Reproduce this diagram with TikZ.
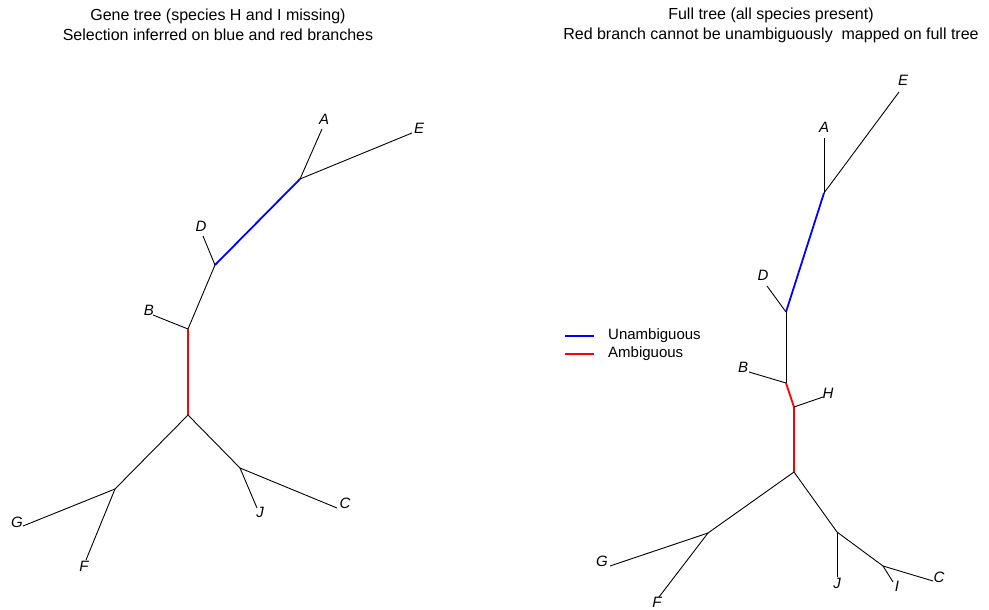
\documentclass[tikz,border=0pt]{standalone}
\usepackage{fontspec}
\setmainfont{Liberation Sans}
\begin{document}
\begin{tikzpicture}[x=1pt,y=-1pt,
  br/.style={black,line width=0.9pt},
  blu/.style={blue,line width=1.8pt},
  rd/.style={red,line width=1.8pt},
  lab/.style={inner sep=0pt,font=\fontsize{15}{15}\selectfont\itshape},
  ttl/.style={align=center,inner sep=0pt,font=\fontsize{16}{20}\selectfont},
  leg/.style={anchor=west,inner sep=0pt,font=\fontsize{15}{15}\selectfont}]
\useasboundingbox (0,0) rectangle (989,610);
% titles
\node[ttl] (t1) at (218,25) {Gene tree (species H and I missing)\\Selection inferred on blue and red branches};
\node[ttl] (t2) at (771,25) {Full tree (all species present)\\Red branch cannot be unambiguously\ \ mapped on full tree};
% ---------- left tree ----------
\coordinate (lAE) at (300,179);
\coordinate (lD) at (215,265);
\coordinate (lB) at (188,329);
\coordinate (lR) at (188,415);
\coordinate (lGF) at (115,489);
\coordinate (lJC) at (240,468);
\coordinate (lAt) at (322,129);
\coordinate (lEt) at (412,133);
\coordinate (lDt) at (203,236);
\coordinate (lBt) at (153,315);
\coordinate (lGt) at (23,526);
\coordinate (lFt) at (86,560);
\coordinate (lJt) at (257,508);
\coordinate (lCt) at (337,508);
\node[lab] (lA) at (324,119) {A};
\node[lab] (lE) at (419,128) {E};
\node[lab] (lDl) at (201,226) {D};
\node[lab] (lBl) at (149,310) {B};
\node[lab] (lG) at (17,522) {G};
\node[lab] (lF) at (84,566) {F};
\node[lab] (lJ) at (260,512) {J};
\node[lab] (lC) at (345,503) {C};
\draw[br] (lAE) -- (lAt);
\draw[br] (lAE) -- (lEt);
\draw[blu] (lAE) -- (lD);
\draw[br] (lD) -- (lDt);
\draw[br] (lD) -- (lB);
\draw[br] (lB) -- (lBt);
\draw[rd] (lB) -- (lR);
\draw[br] (lR) -- (lGF);
\draw[br] (lR) -- (lJC);
\draw[br] (lGF) -- (lGt);
\draw[br] (lGF) -- (lFt);
\draw[br] (lJC) -- (lJt);
\draw[br] (lJC) -- (lCt);
% ---------- right tree ----------
\coordinate (rAE) at (824,193);
\coordinate (rD) at (786,312);
\coordinate (rB) at (786,383);
\coordinate (rH) at (794,407);
\coordinate (rR) at (794,472);
\coordinate (rGF) at (708,533);
\coordinate (rJ) at (837,532);
\coordinate (rIC) at (883,566);
\coordinate (rAt) at (824,138);
\coordinate (rEt) at (899,92);
\coordinate (rDt) at (767,286);
\coordinate (rBt) at (749,372);
\coordinate (rHt) at (823,397);
\coordinate (rGt) at (610,566);
\coordinate (rFt) at (659,597);
\coordinate (rJt) at (837,577);
\coordinate (rIt) at (893,582);
\coordinate (rCt) at (933,581);
\node[lab] (rA) at (824,127) {A};
\node[lab] (rE) at (903,80) {E};
\node[lab] (rDl) at (763,275) {D};
\node[lab] (rBl) at (743,367) {B};
\node[lab] (rHl) at (828,393) {H};
\node[lab] (rG) at (602,561) {G};
\node[lab] (rF) at (657,602.5) {F};
\node[lab] (rJl) at (837,583) {J};
\node[lab] (rI) at (897,586) {I};
\node[lab] (rC) at (939,577) {C};
\draw[br] (rAE) -- (rAt);
\draw[br] (rAE) -- (rEt);
\draw[blu] (rAE) -- (rD);
\draw[br] (rD) -- (rDt);
\draw[br] (rD) -- (rB);
\draw[br] (rB) -- (rBt);
\draw[rd] (rB) -- (rH) -- (rR);
\draw[br] (rH) -- (rHt);
\draw[br] (rR) -- (rGF);
\draw[br] (rR) -- (rJ);
\draw[br] (rGF) -- (rGt);
\draw[br] (rGF) -- (rFt);
\draw[br] (rJ) -- (rJt);
\draw[br] (rJ) -- (rIC);
\draw[br] (rIC) -- (rIt);
\draw[br] (rIC) -- (rCt);
% ---------- legend ----------
\coordinate (lg1a) at (565,336);
\coordinate (lg1b) at (594,336);
\coordinate (lg2a) at (565,354);
\coordinate (lg2b) at (594,354);
\draw[blu] (lg1a) -- (lg1b);
\draw[rd] (lg2a) -- (lg2b);
\node[leg] (lgt1) at (608,336) {Unambiguous};
\node[leg] (lgt2) at (608,354) {Ambiguous};
\end{tikzpicture}
\end{document}
